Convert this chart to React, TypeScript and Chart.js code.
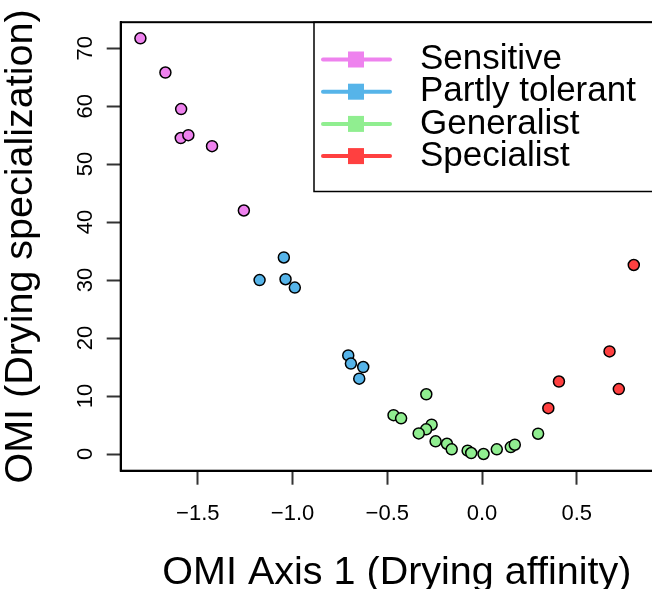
import { useEffect, useRef } from "react";
import { Chart, registerables } from "chart.js";

Chart.register(...registerables);

// ---- data ----
const seriesNames = ["Sensitive", "Partly tolerant", "Generalist", "Specialist"];
const seriesColors = ["#EE82EE", "#56B4E9", "#90EE90", "#FF4040"];

const sensitiveX = [-1.803, -1.671, -1.588, -1.59, -1.55, -1.425, -1.257];
const sensitiveY = [71.7, 65.8, 59.5, 54.5, 55.0, 53.1, 42.0];

const partlyX = [-1.046, -1.174, -1.037, -0.988, -0.706, -0.692, -0.627, -0.648];
const partlyY = [33.9, 30.0, 30.15, 28.7, 17.0, 15.6, 15.0, 13.0];

const generalistX = [-0.294, -0.467, -0.427, -0.266, -0.295, -0.334, -0.245, -0.185, -0.16, -0.076, -0.057, 0.008, 0.078, 0.152, 0.173, 0.296];
const generalistY = [10.3, 6.7, 6.15, 5.05, 4.25, 3.55, 2.19, 1.77, 0.81, 0.57, 0.17, 0.0, 0.81, 1.2, 1.6, 3.5];

const specialistX = [0.801, 0.673, 0.722, 0.406, 0.35];
const specialistY = [32.6, 17.7, 11.2, 12.5, 7.9];

const xTicks = [-1.5, -1.0, -0.5, 0.0, 0.5];
const yTicks = [0, 10, 20, 30, 40, 50, 60, 70];
const xRange = [-1.907, 1.008];
const yRange = [-2.88, 74.48];

const xTitle = "OMI Axis 1 (Drying affinity)";
const yTitle = "OMI (Drying specialization)";

const FONT = '"Liberation Sans", Arial, Helvetica, sans-serif';

const seriesX = [sensitiveX, partlyX, generalistX, specialistX];
const seriesY = [sensitiveY, partlyY, generalistY, specialistY];

const boxAndLegend = {
  id: "boxAndLegend",
  afterDraw(chart: any) {
    const ctx = chart.ctx;
    const ca = chart.chartArea;
    ctx.save();
    ctx.strokeStyle = "#000";
    ctx.lineWidth = 2;
    ctx.strokeRect(ca.left, ca.top, ca.right - ca.left, ca.bottom - ca.top);

    // legend
    const boxLeft = ca.left + 193.3;
    const boxTop = ca.top;
    const boxH = 169.3;
    ctx.lineWidth = 1.5;
    ctx.strokeRect(boxLeft, boxTop, ca.right - boxLeft, boxH);
    const ds = chart.data.datasets;
    ctx.font = `35px ${FONT}`;
    ctx.textBaseline = "middle";
    ctx.textAlign = "left";
    for (let i = 0; i < ds.length; i++) {
      const y = boxTop + 37.3 + i * 32.2;
      const color = ds[i].backgroundColor;
      ctx.strokeStyle = color;
      ctx.lineWidth = 4;
      ctx.lineCap = "round";
      ctx.beginPath();
      ctx.moveTo(boxLeft + 9, y);
      ctx.lineTo(boxLeft + 76, y);
      ctx.stroke();
      ctx.fillStyle = color;
      ctx.fillRect(boxLeft + 34, y - 8, 16, 16);
      ctx.fillStyle = "#000";
      ctx.fillText(ds[i].label, boxLeft + 106, y);
    }
    ctx.restore();
  },
};

export default function App() {
  const ref = useRef<HTMLCanvasElement | null>(null);

  useEffect(() => {
    if (!ref.current) return;
    const datasets = seriesNames.map((name, i) => ({
      label: name,
      data: seriesX[i].map((x, j) => ({ x, y: seriesY[i][j] })),
      backgroundColor: seriesColors[i],
      borderColor: "#000",
      borderWidth: 1.5,
      pointRadius: 5.5,
      pointHoverRadius: 5.5,
    }));
    const chart = new Chart(ref.current, {
      type: "scatter",
      data: { datasets },
      plugins: [boxAndLegend],
      options: {
        animation: false,
        responsive: false,
        devicePixelRatio: 1,
        layout: { padding: { left: 0, top: 21.7, right: 5.7, bottom: 0 } },
        plugins: { legend: { display: false }, tooltip: { enabled: false } },
        scales: {
          x: {
            type: "linear",
            min: xRange[0],
            max: xRange[1],
            afterBuildTicks: (s: any) => {
              s.ticks = xTicks.map((v) => ({ value: v }));
            },
            afterFit: (s: any) => {
              s.height = 118.3;
            },
            grid: {
              display: true,
              drawOnChartArea: false,
              drawTicks: true,
              tickLength: 14,
              tickWidth: 2,
              tickColor: "#333",
            },
            border: { display: true, color: "#000", width: 2 },
            ticks: {
              color: "#000",
              font: { family: FONT, size: 22 },
              padding: 16,
              maxRotation: 0,
              minRotation: 0,
              callback: (v: any) => Number(v).toFixed(1).replace("-", "\u2212"),
            },
            title: {
              display: true,
              text: xTitle,
              color: "#000",
              font: { family: FONT, size: 39.5, lineHeight: 0.82 },
              padding: 0,
            },
          },
          y: {
            type: "linear",
            min: yRange[0],
            max: yRange[1],
            afterBuildTicks: (s: any) => {
              s.ticks = yTicks.map((v) => ({ value: v }));
            },
            afterFit: (s: any) => {
              s.width = 120.7;
            },
            grid: {
              display: true,
              drawOnChartArea: false,
              drawTicks: true,
              tickLength: 14,
              tickWidth: 2,
              tickColor: "#333",
            },
            border: { display: true, color: "#000", width: 2 },
            ticks: {
              color: "#000",
              font: { family: FONT, size: 22 },
              padding: 9,
              minRotation: 90,
              maxRotation: 90,
              crossAlign: "center",
              callback: (v: any) => String(v),
            },
            title: {
              display: true,
              text: yTitle,
              color: "#000",
              font: { family: FONT, size: 39.5, lineHeight: 1.09 },
              padding: 0,
            },
          },
        },
      } as any,
    });
    return () => chart.destroy();
  }, []);

  return (
    <div
      style={{
        position: "fixed",
        left: 0,
        top: 0,
        width: 652,
        height: 589,
        overflow: "hidden",
        background: "#fff",
      }}
    >
      <canvas ref={ref} width={680} height={589} style={{ display: "block", width: 680, height: 589 }} />
    </div>
  );
}
